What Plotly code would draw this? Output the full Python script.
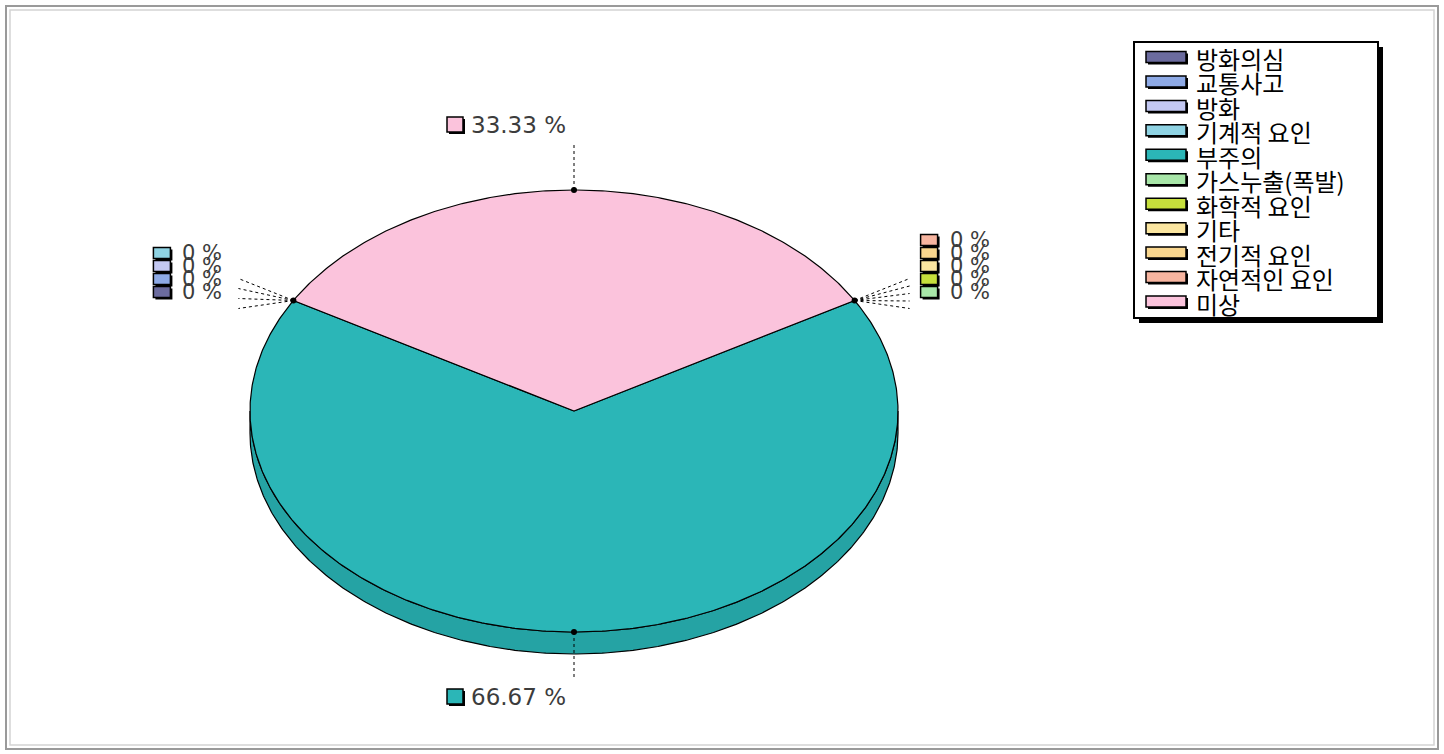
import numpy as np
import plotly.graph_objects as go

# ---------------- data ----------------
categories = ["방화의심", "교통사고", "방화", "기계적 요인", "부주의", "가스누출(폭발)",
              "화학적 요인", "기타", "전기적 요인", "자연적인 요인", "미상"]
values = [0, 0, 0, 0, 2, 0, 0, 0, 0, 0, 1]
colors = ["#6b6b9e", "#8eaae6", "#c3c8f2", "#8fd3e3", "#2bb6b7", "#a8e6a8",
          "#c6df3c", "#fbe6a0", "#f9d68e", "#f7b5a0", "#fbc3dc"]
side_colors = ["#5c5c88", "#7a94c8", "#a8acd4", "#7cb8c6", "#25a3a4", "#90c890",
               "#aac234", "#d8c88a", "#d8ba7a", "#d49c8a", "#d8a8be"]

# ---------------- geometry (pixel-like axes) ----------------
W, H = 1444, 754
CX, CY, RX, RY, DEPTH = 574, 411, 324, 221, 22
START = 150.0

total = sum(values)
fracs = [v / total for v in values]
cum = np.concatenate([[0], np.cumsum(fracs)])
a0s = START + 360 * cum[:-1]
a1s = START + 360 * cum[1:]


def ell(t_deg, dy=0.0):
    t = np.radians(t_deg)
    return CX + RX * np.cos(t), CY - RY * np.sin(t) + dy


def arc(a0, a1, dy=0.0):
    n = max(2, int(abs(a1 - a0) * 2) + 1)
    t = np.linspace(a0, a1, n)
    return ell(t, dy)


fig = go.Figure()

# side (depth) of the front half
for i, (a0, a1) in enumerate(zip(a0s, a1s)):
    if values[i] == 0:
        continue
    for k in range(-1, 3):
        lo = max(a0, 180 + 360 * k)
        hi = min(a1, 360 + 360 * k)
        if hi > lo:
            xt, yt = arc(lo, hi)
            xb, yb = arc(hi, lo, DEPTH)
            xs = np.concatenate([xt, xb, xt[:1]])
            ys = np.concatenate([yt, yb, yt[:1]])
            fig.add_trace(go.Scatter(x=xs, y=ys, mode="lines", fill="toself",
                                     fillcolor=side_colors[i],
                                     line=dict(color="black", width=1.2),
                                     hoverinfo="skip", showlegend=False))

# top surface slices
for i, (a0, a1) in enumerate(zip(a0s, a1s)):
    if values[i] == 0:
        continue
    xa, ya = arc(a0, a1)
    xs = np.concatenate([[CX], xa, [CX]])
    ys = np.concatenate([[CY], ya, [CY]])
    fig.add_trace(go.Scatter(x=xs, y=ys, mode="lines", fill="toself",
                             fillcolor=colors[i],
                             line=dict(color="black", width=1.2),
                             name=categories[i], hoverinfo="name",
                             showlegend=False))

shapes = []
annotations = []


def swatch(x0, y0, x1, y1, color, shadow=2):
    shapes.append(dict(type="rect", xref="x", yref="y", x0=x0 + shadow, y0=y0 + shadow,
                       x1=x1 + shadow, y1=y1 + shadow, fillcolor="black",
                       line=dict(width=0), layer="above"))
    shapes.append(dict(type="rect", xref="x", yref="y", x0=x0, y0=y0, x1=x1, y1=y1,
                       fillcolor=color, line=dict(color="black", width=1.5),
                       layer="above"))


dot_x, dot_y = [], []

# labels for non-zero slices
for i, (a0, a1) in enumerate(zip(a0s, a1s)):
    if values[i] == 0:
        continue
    mid = (a0 + a1) / 2
    px, py = ell(mid)
    dot_x.append(px)
    dot_y.append(py)
    ux, uy = np.cos(np.radians(mid)), -np.sin(np.radians(mid))
    ex, ey = px + 45 * ux, py + 46 * uy
    fig.add_trace(go.Scatter(x=[px, ex], y=[py, ey], mode="lines",
                             line=dict(color="black", width=1, dash="dot"),
                             hoverinfo="skip", showlegend=False))
    ly = ey + 19 * uy
    swatch(ex - 127, ly - 8, ex - 111, ly + 7, colors[i])
    annotations.append(dict(x=ex - 105, y=ly, xref="x", yref="y", xanchor="left",
                            yanchor="middle", showarrow=False,
                            text=f"{values[i] / total * 100:.2f} %",
                            font=dict(family="DejaVu Sans", size=23, color="#3c3c3c")))

# labels for zero slices, grouped by boundary angle
groups = {}
for i, (a0, a1) in enumerate(zip(a0s, a1s)):
    if values[i] == 0:
        groups.setdefault(round(a0 % 360, 6), []).append(i)

for ang, idxs in groups.items():
    px, py = ell(ang)
    dot_x.append(px)
    dot_y.append(py)
    left = np.cos(np.radians(ang)) < 0
    n = len(idxs)
    step = 13
    bottom = py - 3
    for j, i in enumerate(idxs):
        yb = bottom - step * j
        yc = yb - 6
        bx0 = px - 140 if left else px + 66
        ex = px - 55 if left else px + 55
        ey = py + 8 - j * (30 / max(n - 1, 1)) if n > 1 else py
        fig.add_trace(go.Scatter(x=[px, ex], y=[py, ey], mode="lines",
                                 line=dict(color="black", width=1, dash="dot"),
                                 hoverinfo="skip", showlegend=False))
        swatch(bx0, yb - 11, bx0 + 17, yb, colors[i], shadow=2)
        annotations.append(dict(x=bx0 + 27, y=yc, xref="x", yref="y", xanchor="left",
                                yanchor="middle", showarrow=False, text="0 %",
                                font=dict(family="DejaVu Sans", size=21, color="#3c3c3c")))

fig.add_trace(go.Scatter(x=dot_x, y=dot_y, mode="markers",
                         marker=dict(color="black", size=6),
                         hoverinfo="skip", showlegend=False))

# ---------------- legend (drawn) ----------------
LX0, LY0, LX1, LY1 = 1134, 42, 1378, 318
shapes.append(dict(type="rect", xref="x", yref="y", x0=LX0 + 5, y0=LY0 + 5,
                   x1=LX1 + 5, y1=LY1 + 5, fillcolor="black", line=dict(width=0),
                   layer="above"))
shapes.append(dict(type="rect", xref="x", yref="y", x0=LX0, y0=LY0, x1=LX1, y1=LY1,
                   fillcolor="white", line=dict(color="black", width=2), layer="above"))
for i, cat in enumerate(categories):
    yc = 57.5 + 24.45 * i
    swatch(1146, yc - 6, 1186, yc + 5, colors[i], shadow=2)
    annotations.append(dict(x=1194, y=yc + 1, xref="x", yref="y", xanchor="left",
                            yanchor="middle", showarrow=False, text=cat,
                            font=dict(family="Noto Sans CJK KR", size=24, color="black")))

# outer frame
shapes.append(dict(type="rect", xref="x", yref="y", x0=6, y0=6, x1=1438, y1=749,
                   fillcolor="rgba(0,0,0,0)", line=dict(color="#9a9a9a", width=2),
                   layer="below"))
shapes.append(dict(type="rect", xref="x", yref="y", x0=10, y0=10, x1=1434, y1=745,
                   fillcolor="rgba(0,0,0,0)", line=dict(color="#d4d4d4", width=1.5),
                   layer="below"))

fig.update_layout(
    width=W, height=H,
    margin=dict(l=0, r=0, t=0, b=0),
    paper_bgcolor="white", plot_bgcolor="white",
    xaxis=dict(range=[0, W], visible=False, fixedrange=True),
    yaxis=dict(range=[H, 0], visible=False, fixedrange=True),
    shapes=shapes, annotations=annotations,
    showlegend=False,
)

fig.write_html("out.html", config={"displayModeBar": False},
               post_script="document.body.style.margin='0';document.body.style.overflow='hidden';")
